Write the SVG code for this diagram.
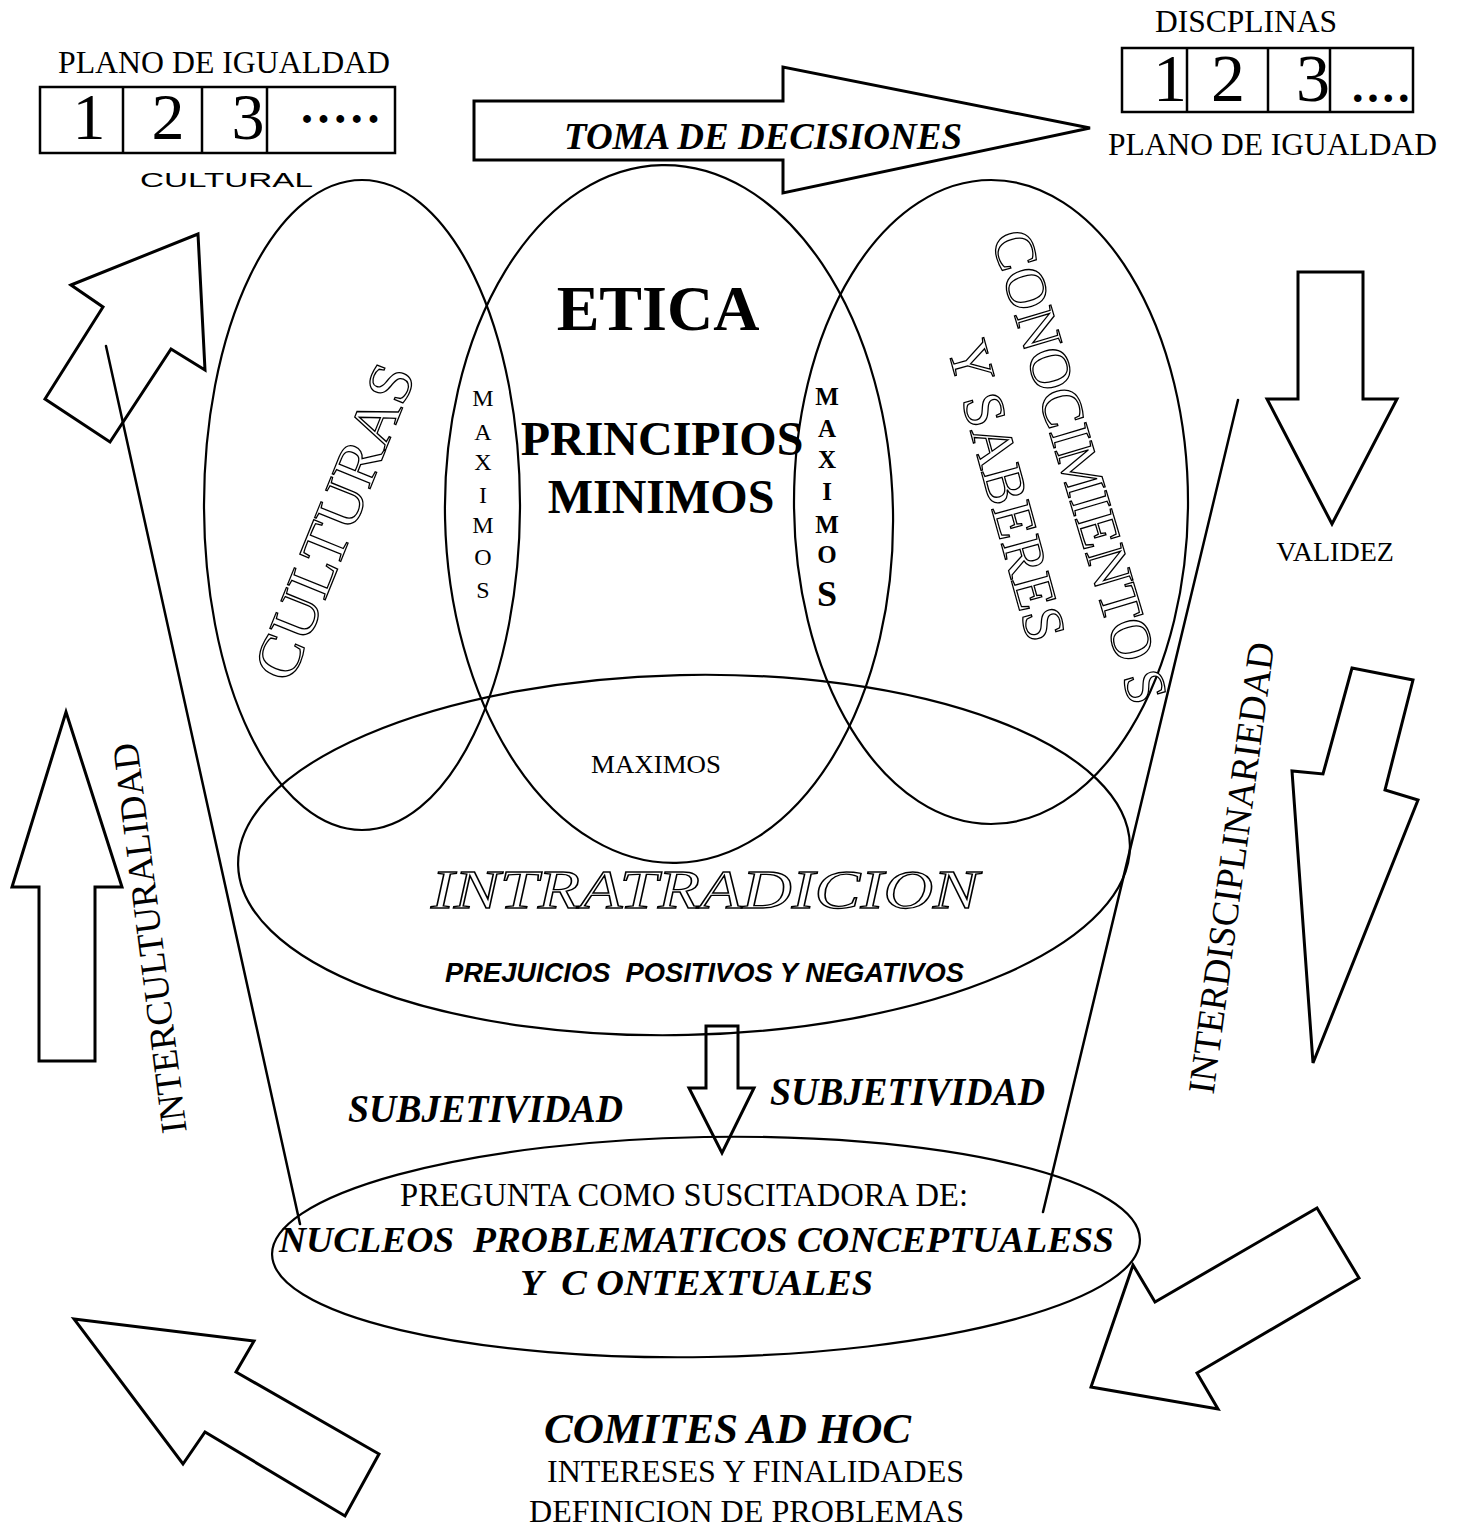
<svg xmlns="http://www.w3.org/2000/svg" width="1458" height="1528" viewBox="0 0 1458 1528">
  <style>
    .bg { fill: #ffffff; }
    .oval { fill: none; stroke: #000; stroke-width: 2.2; }
    .arrow { fill: none; stroke: #000; stroke-width: 3; stroke-linejoin: miter; }
    .box { fill: none; stroke: #000; stroke-width: 2.5; }
    .link { fill: none; stroke: #000; stroke-width: 2.5; stroke-linecap: round; }
    .serif { font-family: "Liberation Serif", "Times New Roman", serif; fill: #000; }
    .sans { font-family: "Liberation Sans", Arial, sans-serif; fill: #000; }
    .bi { font-weight: bold; font-style: italic; }
    .b { font-weight: bold; }
    .outline { fill: #fff; stroke: #000; stroke-width: 1.3; }
  </style>

  <rect class="bg" x="0" y="0" width="1458" height="1528"/>

  <!-- cultural equality plane (top left) -->
  <g id="plano-cultural">
    <text class="serif" x="58" y="73" font-size="32" textLength="332" lengthAdjust="spacingAndGlyphs">PLANO DE IGUALDAD</text>
    <rect class="box" x="40" y="87" width="355" height="66"/>
    <line class="box" x1="123" y1="87" x2="123" y2="153"/>
    <line class="box" x1="202" y1="87" x2="202" y2="153"/>
    <line class="box" x1="267" y1="87" x2="267" y2="153"/>
    <text class="serif" x="89" y="139" font-size="66" text-anchor="middle">1</text>
    <text class="serif" x="168" y="139" font-size="66" text-anchor="middle">2</text>
    <text class="serif" x="248" y="139" font-size="66" text-anchor="middle">3</text>
    <text class="serif b" x="301" y="123" font-size="48" letter-spacing="4.6">.....</text>
    <text class="sans" x="140" y="187" font-size="21" textLength="173" lengthAdjust="spacingAndGlyphs">CULTURAL</text>
  </g>

  <!-- disciplines equality plane (top right) -->
  <g id="plano-disciplinas">
    <text class="serif" x="1155" y="32" font-size="31.5">DISCPLINAS</text>
    <rect class="box" x="1122" y="48" width="291" height="64"/>
    <line class="box" x1="1187" y1="48" x2="1187" y2="112"/>
    <line class="box" x1="1268" y1="48" x2="1268" y2="112"/>
    <line class="box" x1="1330" y1="48" x2="1330" y2="112"/>
    <text class="serif" x="1170" y="101" font-size="68" text-anchor="middle">1</text>
    <text class="serif" x="1228" y="101" font-size="68" text-anchor="middle">2</text>
    <text class="serif" x="1313" y="101" font-size="68" text-anchor="middle">3</text>
    <text class="serif b" x="1352" y="102" font-size="46" letter-spacing="3.8">....</text>
    <text class="serif" x="1108" y="155" font-size="32" textLength="329" lengthAdjust="spacingAndGlyphs">PLANO DE IGUALDAD</text>
  </g>

  <!-- decision making arrow -->
  <g id="toma-decisiones">
    <polygon class="arrow" points="474,101 783,101 783,67 1090,128 783,193 783,160 474,160"/>
    <text class="serif bi" x="564" y="149" font-size="38" textLength="398" lengthAdjust="spacingAndGlyphs">TOMA DE DECISIONES</text>
  </g>

  <!-- cultures oval -->
  <g id="culturas">
    <ellipse class="oval" cx="362" cy="505" rx="158" ry="325"/>
    <g transform="translate(335,522) rotate(-68)">
      <text class="serif outline" x="0" y="20" font-size="62" text-anchor="middle" textLength="335" lengthAdjust="spacingAndGlyphs">CULTURAS</text>
    </g>
  </g>

  <!-- ethics oval -->
  <g id="etica">
    <ellipse class="oval" cx="669" cy="514" rx="224" ry="349" transform="rotate(-1.2 669 514)"/>
    <text class="serif b" x="658" y="330" font-size="64" text-anchor="middle">ETICA</text>
    <text class="serif b" x="662" y="455" font-size="48" text-anchor="middle">PRINCIPIOS</text>
    <text class="serif b" x="661" y="513" font-size="48" text-anchor="middle">MINIMOS</text>
  </g>

  <!-- maximum principles in the overlaps -->
  <g id="maximos-izq" class="serif" font-size="24" text-anchor="middle">
    <text x="483" y="406">M</text>
    <text x="483" y="440">A</text>
    <text x="483" y="470">X</text>
    <text x="483" y="503">I</text>
    <text x="483" y="533">M</text>
    <text x="483" y="565">O</text>
    <text x="483" y="598">S</text>
  </g>
  <g id="maximos-der" class="serif b" font-size="25" text-anchor="middle">
    <text x="827" y="405">M</text>
    <text x="827" y="437">A</text>
    <text x="827" y="468">X</text>
    <text x="827" y="500">I</text>
    <text x="827" y="533">M</text>
    <text x="827" y="563">O</text>
    <text x="827" y="606" font-size="36">S</text>
  </g>

  <!-- knowledge oval -->
  <g id="conocimientos">
    <ellipse class="oval" cx="991" cy="502" rx="197" ry="322"/>
    <text class="serif outline" font-size="58" transform="translate(991,237) rotate(73.4)">CONOCIMIENTO<tspan dx="12">S</tspan></text>
    <text class="serif outline" font-size="58" transform="translate(947,347) rotate(74.6)">Y SABERES</text>
  </g>

  <!-- tradition oval -->
  <g id="intratradicion">
    <ellipse class="oval" cx="684" cy="855" rx="446" ry="180" transform="rotate(-1.3 684 855)"/>
    <text class="serif" x="591" y="773" font-size="26" textLength="130" lengthAdjust="spacingAndGlyphs">MAXIMOS</text>
    <text class="serif outline" x="431" y="908" font-size="54" font-style="italic" textLength="548" lengthAdjust="spacingAndGlyphs">INTRATRADICION</text>
    <text class="sans bi" x="445" y="982" font-size="27" textLength="519" lengthAdjust="spacingAndGlyphs" xml:space="preserve">PREJUICIOS  POSITIVOS Y NEGATIVOS</text>
  </g>

  <!-- question oval -->
  <g id="nucleos">
    <ellipse class="oval" cx="706" cy="1247" rx="434" ry="110" transform="rotate(-1 706 1247)"/>
    <text class="serif" x="400" y="1206" font-size="33" textLength="568" lengthAdjust="spacingAndGlyphs">PREGUNTA COMO SUSCITADORA DE:</text>
    <text class="serif bi" x="279" y="1252" font-size="36" textLength="835" lengthAdjust="spacingAndGlyphs" xml:space="preserve">NUCLEOS  PROBLEMATICOS CONCEPTUALESS</text>
    <text class="serif bi" x="520" y="1295" font-size="36" textLength="353" lengthAdjust="spacingAndGlyphs" xml:space="preserve">Y  C ONTEXTUALES</text>
  </g>

  <!-- subjectivity labels -->
  <g id="subjetividad">
    <text class="serif bi" x="348" y="1122" font-size="40" textLength="275" lengthAdjust="spacingAndGlyphs">SUBJETIVIDAD</text>
    <text class="serif bi" x="770" y="1105" font-size="40" textLength="275" lengthAdjust="spacingAndGlyphs">SUBJETIVIDAD</text>
  </g>

  <!-- interculturality side -->
  <g id="interculturalidad">
    <text class="serif" font-size="37" text-anchor="middle" textLength="393" lengthAdjust="spacingAndGlyphs" transform="translate(150,938) rotate(-97.3)" x="0" y="12">INTERCULTURALIDAD</text>
  </g>

  <!-- interdisciplinarity side -->
  <g id="interdisciplinariedad">
    <text class="serif" font-size="38" text-anchor="middle" textLength="455" lengthAdjust="spacingAndGlyphs" transform="translate(1232,868) rotate(-82.3)" x="0" y="12">INTERDISCIPLINARIEDAD</text>
  </g>

  <!-- validity -->
  <g id="validez">
    <text class="serif" x="1335" y="561" font-size="28" text-anchor="middle">VALIDEZ</text>
  </g>

  <!-- ad hoc committees -->
  <g id="comites">
    <text class="serif bi" x="544" y="1443" font-size="43" textLength="367" lengthAdjust="spacingAndGlyphs">COMITES AD HOC</text>
    <text class="serif" x="547" y="1482" font-size="32" textLength="417" lengthAdjust="spacingAndGlyphs">INTERESES Y FINALIDADES</text>
    <text class="serif" x="529" y="1522" font-size="32" textLength="435" lengthAdjust="spacingAndGlyphs">DEFINICION DE PROBLEMAS</text>
  </g>

  <!-- connectors: block arrows and funnel lines -->
  <g id="connectors">
    <polygon class="arrow" points="71,285 198,234 205,370 171,349 110,442 45,399 103,307"/>
    <polygon class="arrow" points="66,712 122,887 95,887 95,1061 39,1061 39,887 12,887"/>
    <polygon class="arrow" points="1298,272 1363,272 1363,399 1397,399 1332,524 1267,399 1298,399"/>
    <polygon class="arrow" points="1352,668 1413,680 1385,790 1418,800 1313,1063 1292,771 1323,774"/>
    <polygon class="arrow" points="706,1026 738,1026 738,1088 754,1088 722,1153 689,1088 706,1088"/>
    <polygon class="arrow" points="74,1319 254,1341 236,1372 379,1454 345,1516 205,1432 183,1464"/>
    <polygon class="arrow" points="1317,1208 1359,1278 1197,1373 1218,1409 1091,1387 1133,1265 1155,1302"/>
    <line class="link" x1="106" y1="346" x2="300" y2="1224"/>
    <line class="link" x1="1238" y1="400" x2="1043" y2="1212"/>
  </g>
</svg>
